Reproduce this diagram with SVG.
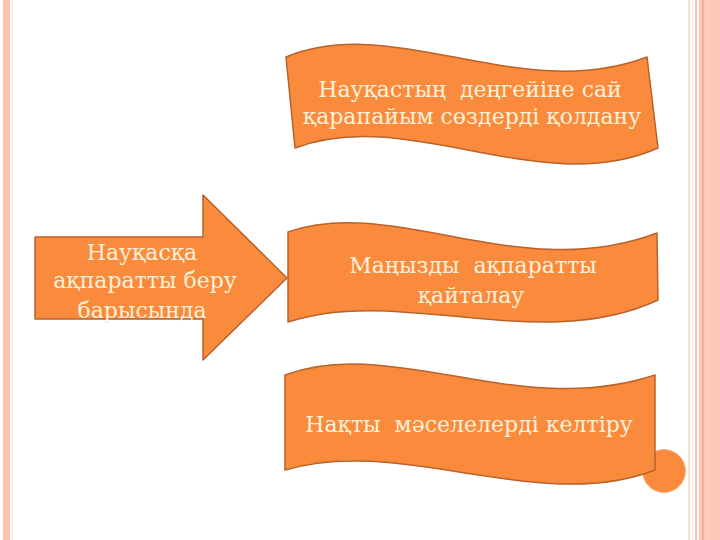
<svg xmlns="http://www.w3.org/2000/svg" width="720" height="540" viewBox="0 0 720 540">
  <style>
    .shape { fill: #fa8b3c; stroke: #b9622a; stroke-width: 1.5; stroke-linejoin: round; }
    .lbl { font-family: "DejaVu Serif", "Liberation Serif", serif; font-size: 22px; fill: #fdf0da; text-anchor: middle; white-space: pre; }
  </style>
  <rect width="720" height="540" fill="#ffffff"/>
  <g id="frame">
    <rect x="3" y="0" width="7" height="540" fill="#fdc4ae"/>
    <rect x="11.5" y="0" width="1" height="540" fill="#f7ddd2"/>
    <rect x="688.5" y="0" width="1.5" height="540" fill="#ead6c9"/>
    <rect x="692" y="0" width="1" height="540" fill="#f3e2d8"/>
    <rect x="695" y="0" width="2" height="540" fill="#f2c6b2"/>
    <rect x="699" y="0" width="21" height="540" fill="#fec8b4"/>
    <rect x="702" y="0" width="1.5" height="540" fill="#f4a688"/>
    <rect x="708" y="0" width="1" height="540" fill="#fbd6c8"/>
  </g>
  <g id="dot">
    <circle cx="664" cy="471" r="21.5" fill="#fa8b3c" stroke="#fbb48a" stroke-width="1"/>
  </g>
  <g id="arrow">
    <path class="shape" d="M35,237 L203,237 L203,195 L287,278 L203,360 L203,319 L35,319 Z"/>
    <text class="lbl" x="142" y="260">Науқасқа</text>
    <text class="lbl" x="145" y="288">ақпаратты беру</text>
    <text class="lbl" x="142" y="318">барысында</text>
  </g>
  <g id="wave1">
    <path class="shape" d="M286,57 C395,12 520,105 647,57 L658,148 C540,200 410,105 295,148 Z"/>
    <text class="lbl" x="470" y="97">Науқастың  деңгейіне сай</text>
    <text class="lbl" x="472" y="124">қарапайым сөздерді қолдану</text>
  </g>
  <g id="wave2">
    <path class="shape" d="M288,232 C395,195 520,285 657,233 L658,300 C540,355 400,285 288,322 Z"/>
    <text class="lbl" x="473" y="273">Маңызды  ақпаратты</text>
    <text class="lbl" x="471" y="303">қайталау</text>
  </g>
  <g id="wave3">
    <path class="shape" d="M285,375 C390,335 520,420 655,375 L655,470 C540,515 400,435 285,470 Z"/>
    <text class="lbl" x="469" y="432">Нақты  мәселелерді келтіру</text>
  </g>
  <g id="connectors"/>
</svg>
